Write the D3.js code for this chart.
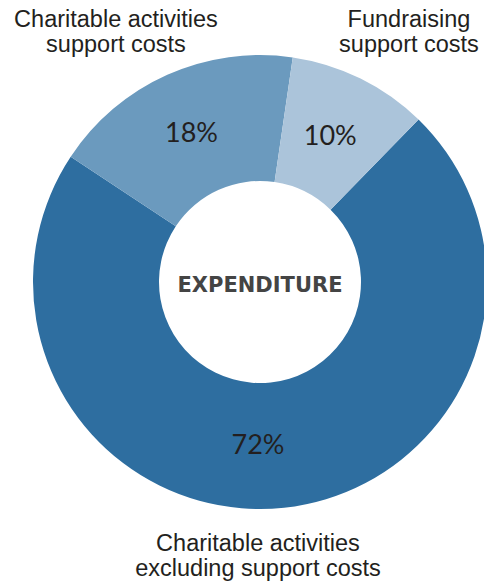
<!DOCTYPE html>
<html>
<head>
<meta charset="utf-8">
<script src="https://cdn.jsdelivr.net/npm/d3@7"></script>
<style>
  html, body { margin: 0; padding: 0; background: #fff; }
  svg { display: block; }
</style>
</head>
<body>
<div id="chart"></div>
<script>
// slice data, in drawing order (clockwise from the start angle)
const categories = [
  'Charitable activities excluding support costs',
  'Charitable activities support costs',
  'Fundraising support costs'
];
const values = [72, 18, 10];
const labelLines = [
  ['Charitable activities', 'excluding support costs'],
  ['Charitable activities', 'support costs'],
  ['Fundraising', 'support costs']
];
const sliceColors = ['#2e6ea0', '#6b9abe', '#abc4da'];
const centreTitle = 'EXPENDITURE';

const width = 484,
  height = 585,
  cx = 260,
  cy = 282,
  outerR = 227,
  innerR = 101;

const svg = d3.select('#chart').append('svg')
  .attr('width', width)
  .attr('height', height);

const g = svg.append('g')
  .attr('transform', 'translate(' + cx + ',' + cy + ')');

const startDeg = 44.3;
const pie = d3.pie()
  .sort(null)
  .startAngle(startDeg * Math.PI / 180)
  .endAngle((startDeg + 360) * Math.PI / 180);

const arc = d3.arc()
  .innerRadius(innerR)
  .outerRadius(outerR);

const arcs = pie(values);

g.selectAll('path.slice')
  .data(arcs)
  .enter()
  .append('path')
  .attr('class', 'slice')
  .attr('d', arc)
  .attr('fill', (d, i) => sliceColors[i]);

// percentage labels - the large slice gets its label at the bottom
const midR = (innerR + outerR) / 2 - 1;
function labelAngle(d) {
  if (d.value > 50) return Math.PI;
  return (d.startAngle + d.endAngle) / 2;
}

g.selectAll('text.pct')
  .data(arcs)
  .enter()
  .append('text')
  .attr('class', 'pct')
  .attr('x', d => midR * Math.sin(labelAngle(d)) - 2)
  .attr('y', d => -midR * Math.cos(labelAngle(d)) + 9)
  .attr('text-anchor', 'middle')
  .attr('font-family', 'Lato, "Liberation Sans", sans-serif')
  .attr('font-weight', 400)
  .attr('font-size', 27)
  .attr('fill', '#231f20')
  .text(d => d.value + '%');

// centre title
g.append('text')
  .attr('x', 0)
  .attr('y', 10)
  .attr('text-anchor', 'middle')
  .attr('font-family', '"DejaVu Sans", sans-serif')
  .attr('font-weight', 700)
  .attr('font-size', 21)
  .attr('fill', '#444')
  .text(centreTitle);

// category labels outside the ring
const labelPos = [
  {x: 258, y: 551},
  {x: 116, y: 27},
  {x: 409, y: 27}
];

svg.selectAll('text.cat')
  .data(categories)
  .enter()
  .append('text')
  .attr('class', 'cat')
  .attr('text-anchor', 'middle')
  .attr('font-family', '"Liberation Sans", Arial, sans-serif')
  .attr('font-size', 23.5)
  .attr('fill', '#231f20')
  .each(function(d, i) {
    const t = d3.select(this);
    labelLines[i].forEach((line, j) => {
      t.append('tspan')
        .attr('x', labelPos[i].x)
        .attr('y', labelPos[i].y + j * 25)
        .text(line);
    });
  });
</script>
</body>
</html>
